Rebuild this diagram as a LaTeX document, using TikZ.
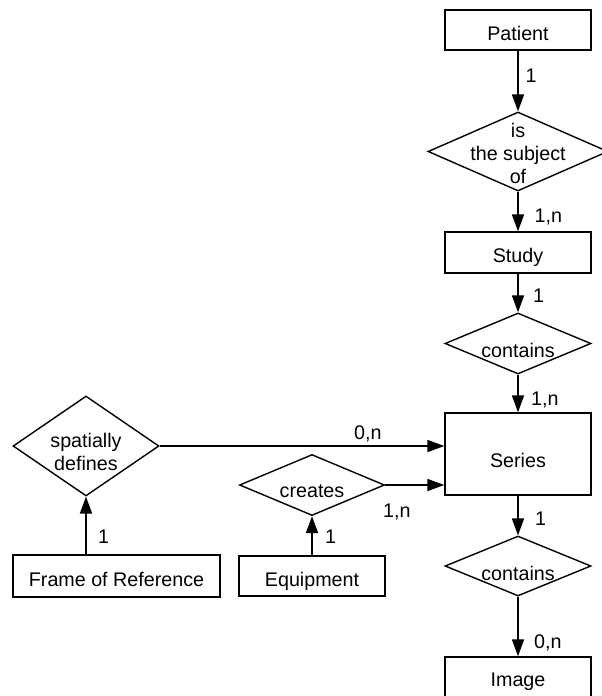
\documentclass[tikz,border=0pt]{standalone}
\usepackage{fontspec}
\setmainfont{Liberation Sans}
\usetikzlibrary{arrows.meta,shapes.geometric}
\begin{document}
\begin{tikzpicture}[x=1pt,y=-1pt,
  every node/.style={font=\fontsize{19.7}{23}\selectfont},
  ent/.style={draw, line width=1.4pt, rectangle, inner sep=0pt, minimum width=146pt, text height=20pt, text depth=0pt},
  rel/.style={draw, line width=1.4pt, diamond, inner sep=0pt},
  txt/.style={inner sep=0pt, align=center, anchor=base},
  lab/.style={inner sep=0pt, anchor=base west},
  conn/.style={line width=1.8pt, -{Triangle[length=17pt,width=12pt]}}]
\useasboundingbox (0,0) rectangle (602,696);
% entities
\node[ent, minimum height=40pt] (patient) at (518,30) {Patient};
\node[ent, minimum height=41pt] (study) at (518,252.5) {Study};
\node[ent, minimum height=82pt, text height=26pt] (series) at (518,454) {Series};
\node[ent, minimum height=42pt, text height=16pt] (image) at (518,678) {Image};
\node[ent, minimum width=207pt, minimum height=42pt] (frame) at (116.5,576) {Frame of Reference};
\node[ent, minimum height=40pt] (equip) at (312,576) {Equipment};
% relationships
\node[rel, minimum width=180pt, minimum height=79pt] (r1) at (518,151.5) {};
\node[txt] (t1) at (518,183) {is\\the subject\\of};
\node[rel, minimum width=146pt, minimum height=61pt] (r2) at (518,343.5) {};
\node[txt] (t2) at (518,357) {contains};
\node[rel, minimum width=146pt, minimum height=60pt] (r3) at (518,566) {};
\node[txt] (t3) at (518,580) {contains};
\node[rel, minimum width=146pt, minimum height=100pt] (r4) at (86,446) {};
\node[txt] (t4) at (86,470) {spatially\\defines};
\node[rel, minimum width=145pt, minimum height=61pt] (r5) at (312,485) {};
\node[txt] (t5) at (312,497) {creates};
% connectors
\draw[conn] (patient) -- (r1);
\draw[conn] (r1) -- (study);
\draw[conn] (study) -- (r2);
\draw[conn] (r2) -- (series);
\draw[conn] (series) -- (r3);
\draw[conn] (r3) -- (image);
\draw[conn] (r4.east) -- (r4.east -| series.west);
\draw[conn] (r5.east) -- (r5.east -| series.west);
\draw[conn] (frame.north -| r4.south) -- (r4.south);
\draw[conn] (equip) -- (r5);
% cardinalities
\node[lab] (l1) at (525.5,82) {1};
\node[lab] (l2) at (534.5,222) {1,n};
\node[lab] (l3) at (533,302) {1};
\node[lab] (l4) at (531,405) {1,n};
\node[lab] (l5) at (535,525) {1};
\node[lab] (l6) at (534,648) {0,n};
\node[lab] (l7) at (354,439) {0,n};
\node[lab] (l8) at (383,517) {1,n};
\node[lab] (l9) at (98,543) {1};
\node[lab] (l10) at (325,543) {1};
\end{tikzpicture}
\end{document}
